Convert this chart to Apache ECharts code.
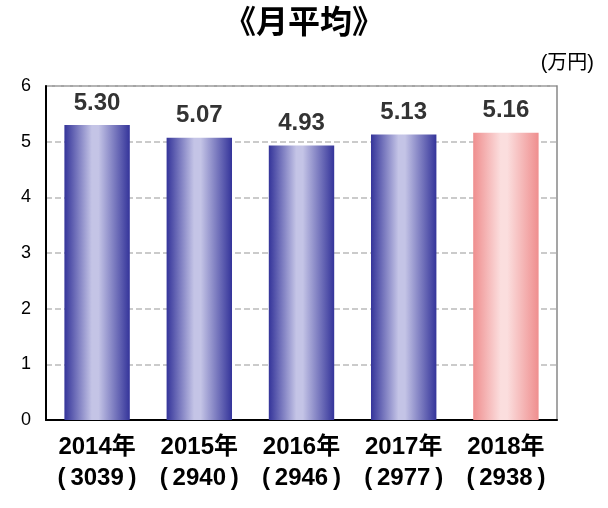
<!DOCTYPE html>
<html><head><meta charset="utf-8">
<script src="https://cdn.jsdelivr.net/npm/echarts@6/dist/echarts.min.js"></script>
<style>html,body{margin:0;padding:0;background:#fff}#c{width:608px;height:508px}</style>
</head><body><div id="c"></div>
<script>
const years = ['2014年','2015年','2016年','2017年','2018年'];
const counts = ['3039','2940','2946','2977','2938'];
const values = [5.30, 5.07, 4.93, 5.13, 5.16];
const yTicks = [0,1,2,3,4,5,6];
const FF = '"Liberation Sans", "Noto Sans CJK JP", sans-serif';

function grad(edge, mid){
  return new echarts.graphic.LinearGradient(0,0,1,0,[
    {offset:0,color:edge},{offset:0.42,color:mid},{offset:0.52,color:mid},{offset:1,color:edge}]);
}
const blue = grad('#34349a','#c4c4e6');
const pink = grad('#ef8e8e','#fbdede');

const chart = echarts.init(document.getElementById('c'));
chart.setOption({
  animation:false,
  title:[
    {text:'《月平均》',left:'center',top:0,textStyle:{fontSize:32,fontWeight:'bold',color:'#000',fontFamily:'"Noto Sans CJK JP"'}},
    {text:'(万円)',right:9,top:48,textStyle:{fontSize:20,fontWeight:'normal',color:'#000',fontFamily:FF}}
  ],
  grid:{left:46,right:51,top:86,bottom:88,show:true,borderColor:'#888',borderWidth:1.5},
  xAxis:{type:'category',data:years.map((y,i)=>y+'\n(\u2009'+counts[i]+'\u2009)'),
    axisLine:{lineStyle:{color:'#000',width:2}},axisTick:{show:false},
    axisLabel:{interval:0,color:'#000',fontSize:24,fontWeight:'bold',lineHeight:31,margin:12,fontFamily:FF}},
  yAxis:{type:'value',min:0,max:6,interval:1,
    axisLine:{show:true,lineStyle:{color:'#000',width:2}},axisTick:{show:false},
    axisLabel:{color:'#000',fontSize:18,margin:15,fontFamily:FF,formatter:v=>yTicks.includes(v)?String(v):''},
    splitLine:{lineStyle:{color:'#bbb',type:'dashed',width:1.5}}},
  series:[{type:'bar',barWidth:'64%',
    data:values.map((v,i)=>({value:v,itemStyle:{color:i===4?pink:blue}})),
    label:{show:true,position:'top',distance:10,formatter:p=>p.value.toFixed(2),fontSize:24,fontWeight:'bold',color:'#333',fontFamily:FF}}]
});
</script></body></html>
